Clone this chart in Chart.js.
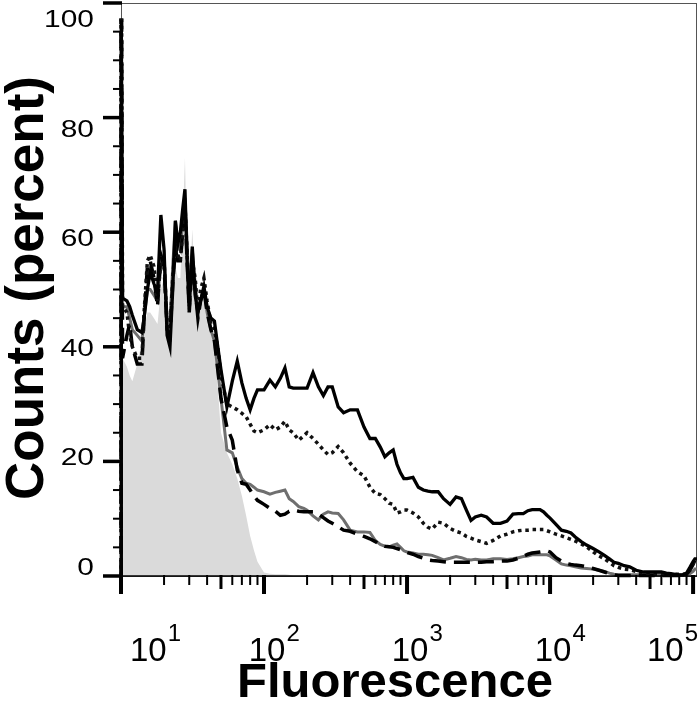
<!DOCTYPE html>
<html>
<head>
<meta charset="utf-8">
<title>Fluorescence histogram</title>
<script src="https://cdn.jsdelivr.net/npm/chart.js@4"></script>
<style>
  html, body { margin: 0; padding: 0; background: #fff; }
  canvas { display: block; }
</style>
</head>
<body>
<canvas id="histChart" width="700" height="701"></canvas>
<script>
// bin positions (fluorescence, log axis); first bin is drawn as a bar at the left edge
const fluorescence = [
  10, 10, 10.1, 10.25, 11, 11.5, 12, 13, 14, 14.5, 15.3, 16, 17, 18, 19, 20, 21, 22, 23, 24, 25,
  26, 27, 28, 29, 30, 31.5, 33, 34.5, 36, 38, 40, 42.5, 45, 47.5, 50, 55, 60, 65, 70, 75,
  80, 85, 90, 100, 110, 120, 130, 140, 150, 160, 175, 190, 200, 220, 240, 260, 280, 300, 330, 360,
  400, 450, 500, 550, 600, 650, 700, 750, 800, 850, 900, 950, 1000, 1100, 1200, 1300, 1400, 1500, 1650, 1800,
  2000, 2200, 2400, 2600, 2800, 3000, 3300, 3600, 4000, 4500, 5000, 5500, 6000, 6500, 7000, 7500, 8000, 8500, 9000, 9500,
  10000, 11000, 12000, 13000, 14000, 15000, 16500, 18000, 20000, 22000, 24000, 26000, 28000, 30000, 33000, 36000, 40000, 45000, 50000, 55000,
  60000, 65000, 70000, 75000, 80000, 85000, 90000, 95000, 100000, 103000, 106500
];

const solidCounts = [
  0, 97, 97, 48.5, 48, 47, 45.5, 43, 42.5, 45, 50, 53, 51, 49.5, 63, 57, 42, 40, 50, 62, 58,
  60, 64, 67.5, 55, 46.5, 57.5, 49, 46, 48, 50.5, 47, 45, 44.5, 40, 36, 29.5, 34, 37.5, 33.7, 31,
  29, 31, 32.5, 32.5, 34.2, 33, 34.5, 36.3, 33, 32.8, 32.8, 32.8, 32.8, 35.5, 33, 31.5, 33, 33, 29.5, 28.5,
  29, 29, 26, 24, 24, 22.5, 20.8, 21.5, 22, 19.5, 18, 17, 17, 17.2, 15.5, 15, 14.8, 14.7, 14.7, 13.5,
  12.5, 13.8, 13.5, 11.5, 9.7, 10.3, 10.6, 10.3, 9.2, 9.2, 9.6, 10.8, 10.9, 10.9, 11.4, 11.6, 11.6, 11.6, 11.2, 10.6,
  10.1, 9, 8, 7.8, 7.5, 6.8, 6, 5.4, 4.8, 4.2, 3.6, 3, 2.4, 2.2, 1.8, 1.6, 1.0, 0.7, 0.7, 0.7,
  0.7, 0.5, 0.4, 0.3, 0.2, 0.2, 0.5, 1.5, 2.5, 3, 3
];

const dottedCounts = [
  0, 97, 97, 47, 46, 42, 40, 38, 38, 46, 55, 56, 54, 48, 55, 55, 44, 43, 52, 58, 56,
  55, 60, 65, 56, 47, 55, 52, 46, 50, 52, 48, 44, 43, 40, 35, 30, 29.5, 29, 28.4, 27.8,
  26.5, 25.3, 25, 25.5, 26.4, 25.5, 26, 27, 25.5, 25, 23.7, 24.5, 25, 24, 23, 22, 21.2, 21.5, 22.6, 21.5,
  19.7, 18.2, 17.5, 15.5, 14.4, 14.2, 13.5, 12.7, 12.5, 11, 11.2, 11.5, 11.5, 11, 10.3, 9.2, 8.5, 8.2, 9.4, 9.2,
  8.3, 7.8, 7.5, 6.9, 6.6, 6.3, 6, 5.7, 6.2, 7, 7.3, 7.7, 7.9, 8, 8, 8.1, 8.1, 8.1, 8.1, 7.9,
  7.7, 7.3, 7, 6.7, 6.4, 6.1, 5.6, 5.1, 4.2, 3.5, 3, 2.4, 1.8, 1.5, 1.2, 1.1, 0.8, 0.5, 0.3, 0.3,
  0.3, 0.3, 0.3, 0.3, 0.3, 0.3, 0.4, 1.2, 2.2, 2.8, 2.8
];

const dashedCounts = [
  0, 97, 97, 38, 42, 44, 40, 37, 37, 45, 54, 55, 52, 47, 56, 54, 43, 42, 51, 57, 55,
  55, 60, 64, 55, 46, 55, 50, 45, 48, 50, 46, 43, 41, 36, 31, 26, 23.7, 18.5, 16.2, 16,
  15, 14, 13.2, 12.5, 11.8, 11.3, 10.6, 10.8, 11.3, 11.5, 11.3, 11.2, 11.2, 11.2, 10.8, 10.2, 9.6, 9.2, 8.6, 8,
  7.8, 7.3, 6.9, 6.5, 6, 5.4, 5.2, 5.1, 5, 4.8, 4.6, 4.3, 4.1, 3.8, 3.4, 3.1, 2.8, 2.7, 2.6, 2.5,
  2.4, 2.4, 2.4, 2.4, 2.4, 2.4, 2.4, 2.5, 2.5, 2.6, 2.6, 2.8, 3.1, 3.4, 3.8, 4.0, 4.1, 4.2, 4.3, 4.4,
  4.2, 3.2, 2.6, 2.2, 2.0, 1.9, 1.8, 1.6, 1.3, 1.0, 0.7, 0.4, 0.2, 0.1, 0.1, 0.1, 0.1, 0.1, 0.1, 0.1,
  0.1, 0.1, 0.1, 0.1, 0.1, 0.1, 0.3, 1, 2, 2.8, 2.8
];

const grayCounts = [
  0, 95, 95, 47, 47, 45, 43, 42, 41, 45, 50, 50, 49, 48, 55, 56, 45, 44, 54, 62, 58,
  57, 62, 66, 58, 49, 57, 51, 46, 48, 50, 46, 43, 41, 36, 31, 22, 21.5, 19, 17, 16.2,
  16, 15.5, 15, 14.7, 14.3, 14.6, 14.8, 15, 13.5, 13, 12.1, 11.8, 11.5, 10.5, 9.8, 10.8, 11.2, 11, 10.9, 9.8,
  8, 7.7, 7.7, 7.6, 6.2, 5.5, 5.2, 5.1, 5.4, 5.6, 5, 4.4, 4.2, 4, 3.8, 3.8, 3.7, 3.6, 3.2, 2.8,
  3.1, 3.4, 3.2, 2.9, 2.8, 2.9, 2.8, 2.8, 3.0, 3.0, 2.9, 3.0, 3.2, 3.4, 3.5, 3.7, 3.7, 3.7, 3.7, 3.7,
  3.5, 2.8, 2.1, 1.9, 1.8, 1.6, 1.4, 1.3, 1.2, 1.0, 0.8, 0.5, 0.3, 0.2, 0.2, 0.2, 0.2, 0.2, 0.2, 0.2,
  0.2, 0.2, 0.2, 0.2, 0.2, 0.2, 0.2, 0.4, 0.8, 1.2, 1.2
];

// isotype control (filled); zero from here on
const controlCounts = [
  0, 34, 34, 38, 36.5, 35, 34, 37, 41, 43, 46, 46, 45, 44, 50, 52, 44, 40, 48, 54, 52,
  52, 62, 73, 56, 48, 60.5, 51, 47, 49, 53.5, 47, 44, 41, 33, 25, 21.5, 19.5, 17, 14, 10.5,
  7, 4.5, 2.5, 0.6, 0.4, 0.3, 0.3, 0.3, 0.2, 0
];

const yTickValues = [0, 20, 40, 60, 80, 100];
const xDecades = [1, 2, 3, 4, 5];

const FONT = '"Liberation Sans", Arial, Helvetica, sans-serif';

function points(values) {
  return values.map((v, i) => ({ x: fluorescence[i], y: v }));
}

const axisDecor = {
  id: 'axisDecor',
  beforeDatasetsDraw(chart) {
    const { ctx, chartArea: a } = chart;
    ctx.save();
    ctx.strokeStyle = '#555';
    ctx.lineWidth = 1;
    ctx.strokeRect(a.left + 0.5, a.top + 0.5, a.right - a.left - 1, a.bottom - a.top);
    ctx.restore();
  },
  afterDraw(chart) {
    const { ctx, chartArea: a, scales: { x, y } } = chart;
    ctx.save();
    ctx.strokeStyle = '#000';
    ctx.fillStyle = '#000';

    // bottom axis line
    ctx.lineWidth = 1.5;
    ctx.beginPath();
    ctx.moveTo(a.left, a.bottom);
    ctx.lineTo(a.right, a.bottom);
    ctx.stroke();

    // y ticks every 5, long ones every 20
    for (let v = 0; v <= 100; v += 5) {
      const py = y.getPixelForValue(v);
      const major = v % 20 === 0;
      ctx.lineWidth = major ? 3.5 : 2;
      ctx.beginPath();
      ctx.moveTo(a.left - (major ? 18 : 8), py);
      ctx.lineTo(a.left + 1, py);
      ctx.stroke();
    }

    // x ticks (log)
    xDecades.forEach((n) => {
      for (let k = 1; k <= 9; k++) {
        const v = k * Math.pow(10, n);
        if (v > x.max) break;
        const px = x.getPixelForValue(v);
        const len = k === 1 ? 18 : (k === 5 ? 13 : 9);
        ctx.lineWidth = k === 1 ? 4 : (k === 5 ? 3 : 2);
        ctx.beginPath();
        ctx.moveTo(px, a.bottom - 1);
        ctx.lineTo(px, a.bottom + len);
        ctx.stroke();
      }
    });

    // y tick labels (wide digits)
    ctx.font = `23px ${FONT}`;
    ctx.textAlign = 'right';
    ctx.textBaseline = 'middle';
    yTickValues.forEach((v) => {
      const ty = 21 + (y.getPixelForValue(v) - a.top) * 0.955;
      ctx.save();
      ctx.translate(94, ty);
      ctx.scale(1.3, 1);
      ctx.fillText(String(v), 0, 0);
      ctx.restore();
    });

    // x tick labels 10^n
    ctx.textAlign = 'left';
    ctx.textBaseline = 'alphabetic';
    xDecades.forEach((n) => {
      const t = x.getPixelForValue(Math.pow(10, n));
      ctx.font = `33px ${FONT}`;
      const wBase = ctx.measureText('10').width;
      ctx.font = `24px ${FONT}`;
      const wSup = ctx.measureText(String(n)).width;
      const total = wBase + 1 + wSup;
      let start = t + 3 - wBase / 2;
      start = Math.max(start, 130);
      start = Math.min(start, a.right - total + 1);
      ctx.font = `33px ${FONT}`;
      ctx.fillText('10', start, 661);
      ctx.font = `24px ${FONT}`;
      ctx.fillText(String(n), start + wBase + 1, 641);
    });

    // axis titles
    ctx.font = `bold 49px ${FONT}`;
    ctx.textAlign = 'center';
    ctx.fillText('Fluorescence', 395, 697);

    ctx.save();
    ctx.translate(43, 288);
    ctx.rotate(-Math.PI / 2);
    ctx.font = `bold 53px ${FONT}`;
    ctx.fillText('Counts (percent)', 0, 0);
    ctx.restore();

    ctx.restore();
  }
};

new Chart(document.getElementById('histChart'), {
  type: 'line',
  data: {
    datasets: [
      { label: 'solid', data: points(solidCounts), borderColor: '#000', borderWidth: 3.3, clip: 6, order: 1 },
      { label: 'dotted', data: points(dottedCounts), borderColor: '#111', borderWidth: 3.5, borderDash: [3.5, 3.8], clip: 6, order: 2 },
      { label: 'dashed', data: points(dashedCounts), borderColor: '#000', borderWidth: 3.5, borderDash: [16, 8], clip: 6, order: 3 },
      { label: 'gray', data: points(grayCounts), borderColor: '#6f6f6f', borderWidth: 3, clip: 6, order: 4 },
      { label: 'control', data: points(controlCounts), borderColor: '#dadada', borderWidth: 0, backgroundColor: '#dadada', fill: 'origin', order: 5 }
    ]
  },
  options: {
    responsive: false,
    animation: false,
    layout: { padding: { left: 121, right: 3, top: 3, bottom: 125 } },
    elements: { point: { radius: 0 }, line: { tension: 0 } },
    scales: {
      x: { type: 'logarithmic', min: 10, max: 106500, display: false },
      y: { type: 'linear', min: 0, max: 100, display: false }
    },
    plugins: { legend: { display: false }, tooltip: { enabled: false } }
  },
  plugins: [axisDecor]
});
</script>
</body>
</html>
